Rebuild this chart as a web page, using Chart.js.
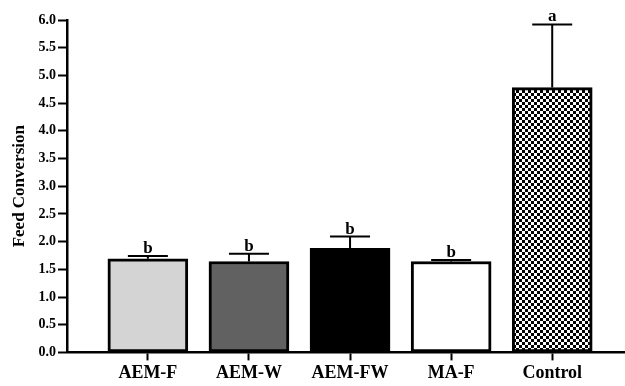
<!DOCTYPE html>
<html lang="en">
<head>
  <meta charset="UTF-8">
  <title>Feed Conversion</title>
  <script src="https://cdn.jsdelivr.net/npm/chart.js"></script>
  <style>
    body { margin: 0; background: #fff; }
  </style>
</head>
<body>

<canvas id="chart" width="625" height="386"></canvas>

<script>
const categories = ['AEM-F', 'AEM-W', 'AEM-FW', 'MA-F', 'Control'];
const means = [1.69, 1.64, 1.88, 1.64, 4.78];
const errors = [0.05, 0.14, 0.21, 0.03, 1.14];
const letters = ['b', 'b', 'b', 'b', 'a'];

const serif = "'Liberation Serif', 'Times New Roman', serif";

// black/white checkerboard for the control bar
function checker() {
  const c = document.createElement('canvas');
  c.width = 6; c.height = 6;
  const g = c.getContext('2d');
  g.fillStyle = '#fff';
  g.fillRect(0, 0, 6, 6);
  g.fillStyle = '#000';
  g.fillRect(0, 0, 3, 3);
  g.fillRect(3, 3, 3, 3);
  return g.createPattern(c, 'repeat');
}

const errorBars = {
  id: 'errorBars',
  afterDatasetsDraw(chart) {
    const ctx = chart.ctx;
    const xs = chart.scales.x, ys = chart.scales.y;
    ctx.save();
    ctx.strokeStyle = '#000';
    ctx.lineWidth = 2;
    ctx.fillStyle = '#000';
    ctx.font = 'bold 17px ' + serif;
    ctx.textAlign = 'center';
    ctx.textBaseline = 'alphabetic';
    means.forEach((m, i) => {
      const x = xs.getPixelForValue(i);
      const yBar = ys.getPixelForValue(m);
      const yTop = ys.getPixelForValue(m + errors[i]);
      ctx.beginPath();
      ctx.moveTo(x, yBar);
      ctx.lineTo(x, yTop);
      ctx.moveTo(x - 20, yTop);
      ctx.lineTo(x + 20, yTop);
      ctx.stroke();
      ctx.fillText(letters[i], x, yTop - 3);
    });
    ctx.restore();
  }
};

const ctx = document.getElementById('chart').getContext('2d');
new Chart(ctx, {
  type: 'bar',
  data: {
    datasets: [{
      data: means.map((v, i) => ({ x: i, y: v })),
      backgroundColor: ['#d4d4d4', '#616161', '#000000', '#ffffff', checker()],
      borderColor: '#000',
      borderWidth: 3,
      borderSkipped: false,
      barThickness: 80
    }]
  },
  options: {
    responsive: false,
    animation: false,
    layout: { padding: { top: 20, right: 0, bottom: 0, left: 0 } },
    plugins: { legend: { display: false }, tooltip: { enabled: false } },
    scales: {
      x: {
        type: 'linear',
        offset: false,
        min: -0.8,
        max: 4.72,
        afterBuildTicks: axis => { axis.ticks = categories.map((_, i) => ({ value: i })); },
        ticks: {
          callback: v => categories[v],
          autoSkip: false,
          maxRotation: 0,
          padding: 2,
          color: '#000',
          font: { family: serif, size: 18, weight: 'bold' }
        },
        grid: { offset: false, drawOnChartArea: false, tickLength: 8, tickColor: '#000', tickWidth: 2 },
        border: { color: '#000', width: 2.5 }
      },
      y: {
        min: 0,
        max: 6,
        ticks: {
          stepSize: 0.5,
          callback: v => v.toFixed(1),
          padding: 2,
          color: '#000',
          font: { family: serif, size: 14, weight: 'bold' }
        },
        afterFit: scale => { scale.width = 67; },
        grid: { drawOnChartArea: false, tickLength: 9, tickColor: '#000', tickWidth: 2 },
        border: { color: '#000', width: 2.5 },
        title: {
          display: true,
          text: 'Feed Conversion',
          color: '#000',
          padding: { top: 9, bottom: 0 },
          font: { family: serif, size: 17, weight: 'bold' }
        }
      }
    }
  },
  plugins: [errorBars]
});
</script>

</body>
</html>
